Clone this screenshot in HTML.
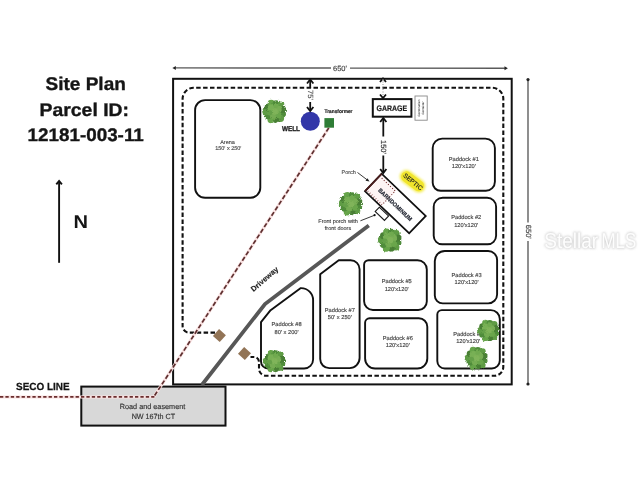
<!DOCTYPE html>
<html><head><meta charset="utf-8">
<style>
html,body{margin:0;padding:0;background:#fff;width:640px;height:480px;overflow:hidden}
svg{display:block;will-change:transform}
text{font-family:"Liberation Sans",sans-serif;text-rendering:geometricPrecision}
</style></head>
<body>
<svg width="640" height="480" viewBox="0 0 640 480">
<defs>
<g id="tree" filter="url(#tex)">
<circle r="10" fill="#5a983e"/>
<circle cx="7.36" cy="2.28" r="3.3" fill="#4f8c3a"/>
<circle cx="5.54" cy="6.58" r="3.3" fill="#5f9c45"/>
<circle cx="0.99" cy="7.64" r="3.3" fill="#487f34"/>
<circle cx="-3.68" cy="7.77" r="3.3" fill="#66a44a"/>
<circle cx="-6.54" cy="4.07" r="3.3" fill="#4f8c3a"/>
<circle cx="-8.60" cy="-0.12" r="3.3" fill="#5f9c45"/>
<circle cx="-6.42" cy="-4.26" r="3.3" fill="#487f34"/>
<circle cx="-3.46" cy="-7.87" r="3.3" fill="#66a44a"/>
<circle cx="1.21" cy="-7.61" r="3.3" fill="#4f8c3a"/>
<circle cx="5.72" cy="-6.42" r="3.3" fill="#5f9c45"/>
<circle cx="7.42" cy="-2.06" r="3.3" fill="#487f34"/>
<circle cx="-3" cy="-3" r="4" fill="#78b055"/>
<circle cx="3" cy="-2" r="3.5" fill="#78ae54"/>
<circle cx="-1" cy="3" r="4" fill="#74ac52"/>
<circle cx="3.5" cy="3.5" r="3" fill="#6aa64c"/>
<circle cx="0" cy="0" r="3" fill="#80b45a"/>
<circle cx="-5" cy="1" r="2.5" fill="#65a049"/>
<circle cx="1" cy="-6" r="2.5" fill="#70aa50"/>
</g>
<filter id="tex" x="-30%" y="-30%" width="160%" height="160%">
<feTurbulence type="fractalNoise" baseFrequency="0.9" numOctaves="2" seed="4" result="n"/>
<feDisplacementMap in="SourceGraphic" in2="n" scale="3" xChannelSelector="R" yChannelSelector="G"/>
</filter>
<filter id="wm" x="-10%" y="-30%" width="120%" height="160%">
<feGaussianBlur stdDeviation="0.9"/>
</filter>
<filter id="glow" x="-30%" y="-50%" width="160%" height="200%">
<feGaussianBlur stdDeviation="1.2"/>
</filter>
</defs>
<rect width="640" height="480" fill="#fff"/>

<!-- Title -->
<g font-weight="bold" font-size="18.3" fill="#151515" stroke="#151515" stroke-width="0.35">
<text x="45.6" y="89.8" textLength="80.2" lengthAdjust="spacingAndGlyphs">Site Plan</text>
<text x="39.6" y="115.6" textLength="89.4" lengthAdjust="spacingAndGlyphs">Parcel ID:</text>
<text x="27.6" y="140.5" textLength="116.2" lengthAdjust="spacingAndGlyphs">12181-003-11</text>
</g>

<!-- North arrow -->
<line x1="59.1" y1="262.8" x2="59.1" y2="181.5" stroke="#111" stroke-width="1.9"/>
<polyline points="56.3,184.4 59.1,180.9 61.9,184.4" fill="none" stroke="#111" stroke-width="1.9" stroke-linejoin="miter"/>
<text transform="translate(73.5,227.9) scale(1.08,1)" font-weight="bold" font-size="18.6" fill="#151515">N</text>

<!-- Top dimension -->
<g stroke="#5a5a5a" stroke-width="1.4">
<line x1="175" y1="67.9" x2="331" y2="68.05"/>
<line x1="350" y1="68.1" x2="505.5" y2="68.3"/>
</g>
<polygon points="172.4,67.9 175.8,65.9 175.8,69.9" fill="#222"/>
<polygon points="507.9,68.35 504.5,66.35 504.5,70.35" fill="#222"/>
<text x="340" y="70.9" font-size="7.5" fill="#3a3a3a" stroke="#3a3a3a" stroke-width="0.12" text-anchor="middle">650'</text>

<!-- Right dimension -->
<g stroke="#5f5f5f" stroke-width="1.4">
<line x1="528" y1="80" x2="528" y2="222.5"/>
<line x1="528" y1="241" x2="528" y2="383"/>
</g>
<circle cx="528" cy="79.6" r="1.6" fill="#222"/>
<circle cx="528" cy="384" r="1.6" fill="#222"/>
<text transform="translate(525.6,231.8) rotate(90)" font-size="7.5" fill="#3a3a3a" stroke="#3a3a3a" stroke-width="0.12" text-anchor="middle">650'</text>

<!-- Outer border -->
<rect x="173.1" y="78.8" width="338.6" height="305.6" fill="none" stroke="#111" stroke-width="2"/>

<!-- Dashed loop -->
<path d="M215,332.6 H189.1 A6.5,6.5 0 0 1 182.6,326.1 V98.8 A11,11 0 0 1 193.6,87.8 H492.3 A11,11 0 0 1 503.3,98.8 V366.8 A9,9 0 0 1 494.3,375.8 H266 A7,7 0 0 1 259,368.8 V362 A5,5 0 0 0 254,357 H250.5"
 fill="none" stroke="#111" stroke-width="2.1" stroke-dasharray="4.5 2.4"/>

<!-- Arena -->
<rect x="195.1" y="100.1" width="65.2" height="97.7" rx="10" fill="none" stroke="#111" stroke-width="1.9"/>
<text x="227.5" y="143.5" font-size="5.5" fill="#444" stroke="#444" stroke-width="0.12" text-anchor="middle">Arena</text>
<text x="228.3" y="150.3" font-size="5.5" fill="#444" stroke="#444" stroke-width="0.12" text-anchor="middle">150' x 250'</text>

<!-- Paddocks -->
<g fill="none" stroke="#111" stroke-width="1.9" stroke-linejoin="round">
<path d="M442.20,138.60 H485.40 A9.5,9.5 0 0 1 494.90,148.10 V181.80 A9,9 0 0 1 485.90,190.80 H440.70 A8,8 0 0 1 432.70,182.80 V148.10 A9.5,9.5 0 0 1 442.20,138.60 Z"/>
<path d="M442.70,197.70 H487.10 A9,9 0 0 1 496.10,206.70 V235.80 A8.5,8.5 0 0 1 487.60,244.30 H442.20 A8.5,8.5 0 0 1 433.70,235.80 V206.70 A9,9 0 0 1 442.70,197.70 Z"/>
<path d="M444.80,251.00 H488.10 A9,9 0 0 1 497.10,260.00 V294.40 A9,9 0 0 1 488.10,303.40 H442.80 A8,8 0 0 1 434.80,295.40 V261.00 A10,10 0 0 1 444.80,251.00 Z"/>
<path d="M441.80,310.10 H490.80 A9,9 0 0 1 499.80,319.10 V360.50 A8,8 0 0 1 491.80,368.50 H444.80 A7.5,7.5 0 0 1 437.30,361.00 V314.60 A4.5,4.5 0 0 1 441.80,310.10 Z"/>
<path d="M368.60,260.20 H417.50 A9.3,9.3 0 0 1 426.80,269.50 V301.50 A8.5,8.5 0 0 1 418.30,310.00 H372.85 A8.75,8.75 0 0 1 364.10,301.25 V264.70 A4.5,4.5 0 0 1 368.60,260.20 Z"/>
<path d="M369.60,318.30 H418.80 A8.5,8.5 0 0 1 427.30,326.80 V358.50 A10,10 0 0 1 417.30,368.50 H375.10 A10,10 0 0 1 365.10,358.50 V322.80 A4.5,4.5 0 0 1 369.60,318.30 Z"/>
<path d="M338.75,260.3 H350.6 A9,9 0 0 1 359.6,269.3 V358.1 A10,10 0 0 1 349.6,368.1 H329.2 A9,9 0 0 1 320.2,359.1 V274.2 L338.75,260.3 Z"/>
<path d="M300.8,288.1 H301.1 A12,12 0 0 1 313.1,300.1 V359.5 A9,9 0 0 1 304.1,368.5 H268 A7,7 0 0 1 261,361.5 V322.2 L270.6,310.2 L300.8,288.1 Z"/>
</g>
<g font-size="5.7" fill="#404040" stroke="#404040" stroke-width="0.14" text-anchor="middle">
<text x="463.8" y="160.7">Paddock #1</text><text x="463.8" y="167.7">120'x120'</text>
<text x="466.2" y="219.4">Paddock #2</text><text x="466.2" y="226.6">120'x120'</text>
<text x="466.6" y="277">Paddock #3</text><text x="466.6" y="284.2">120'x120'</text>
<text x="468.2" y="335.8">Paddock #4</text><text x="468.2" y="343.1">120'x120'</text>
<text x="396.7" y="283.1">Paddock #5</text><text x="396.7" y="290.5">120'x120'</text>
<text x="397.8" y="340">Paddock #6</text><text x="397.8" y="347.1">120'x120'</text>
<text x="339.8" y="311.6">Paddock #7</text><text x="339.8" y="319">50' x 250'</text>
<text x="286.6" y="326.3">Paddock #8</text><text x="286.6" y="334.1">80' x 200'</text>
</g>

<!-- Road -->
<rect x="81.3" y="386.6" width="144.2" height="39" fill="#d8d8d8" stroke="#111" stroke-width="2"/>
<text x="152.5" y="408.5" font-size="7.5" fill="#333" stroke="#333" stroke-width="0.15" text-anchor="middle" textLength="65.5" lengthAdjust="spacingAndGlyphs">Road and easement</text>
<text x="153.4" y="418.5" font-size="7.5" fill="#333" stroke="#333" stroke-width="0.15" text-anchor="middle" textLength="43.5" lengthAdjust="spacingAndGlyphs">NW 167th CT</text>

<!-- SECO line -->
<text x="16" y="389.8" font-weight="bold" font-size="10.3" fill="#151515" stroke="#151515" stroke-width="0.25" textLength="53.6" lengthAdjust="spacingAndGlyphs">SECO LINE</text>
<polyline points="0,396.9 153.75,396.9 328.8,127.9" fill="none" stroke="#f9e2e2" stroke-width="3"/>
<line x1="0" y1="396.9" x2="154.4" y2="396.9" stroke="#6a2e2e" stroke-width="1.6" stroke-dasharray="3.3 2.1"/>
<line x1="328.8" y1="127.9" x2="153.75" y2="396.9" stroke="#5e3030" stroke-width="1.7" stroke-dasharray="4.4 2.3"/>

<!-- Driveway -->
<polyline points="201.8,385 265,304 368.8,225.4" fill="none" stroke="#575757" stroke-width="3.8"/>
<text transform="translate(266.2,281) rotate(-41)" font-weight="bold" font-size="7.4" fill="#1e1e1e" stroke="#1e1e1e" stroke-width="0.15" text-anchor="middle" textLength="33.5" lengthAdjust="spacingAndGlyphs">Driveway</text>

<!-- Diamonds -->
<rect x="-4.6" y="-4.6" width="9.2" height="9.2" fill="#927456" transform="translate(219.4,335.6) rotate(42)"/>
<rect x="-4.6" y="-4.6" width="9.2" height="9.2" fill="#927456" transform="translate(244.5,353.5) rotate(42)"/>

<!-- Well + transformer -->
<circle cx="310.3" cy="121.3" r="9.5" fill="#3236a8"/>
<text x="291" y="130.6" font-weight="bold" font-size="7" fill="#1a1a1a" stroke="#1a1a1a" stroke-width="0.3" text-anchor="middle" textLength="18" lengthAdjust="spacingAndGlyphs">WELL</text>
<rect x="324.4" y="118.1" width="9.6" height="9.6" fill="#2f7d36"/>
<text x="338.5" y="113.2" font-weight="bold" font-size="5.2" fill="#1e1e1e" stroke="#1e1e1e" stroke-width="0.2" text-anchor="middle" textLength="28" lengthAdjust="spacingAndGlyphs">Transformer</text>

<!-- 75' arrow -->
<line x1="310.2" y1="80" x2="310.2" y2="88" stroke="#111" stroke-width="1.8"/>
<polyline points="307,83.5 310.2,79.5 313.4,83.5" fill="none" stroke="#111" stroke-width="1.8"/>
<line x1="310.2" y1="102" x2="310.2" y2="110.5" stroke="#111" stroke-width="1.8"/>
<polyline points="307,107 310.2,111 313.4,107" fill="none" stroke="#111" stroke-width="1.8"/>
<text transform="translate(308,95) rotate(90)" font-size="7.5" fill="#555" stroke="#555" stroke-width="0.12" text-anchor="middle">75'</text>

<!-- Garage -->
<rect x="372.8" y="99.1" width="38.6" height="17.6" fill="none" stroke="#111" stroke-width="2"/>
<text x="391.9" y="110.9" font-weight="bold" font-size="8" fill="#1a1a1a" stroke="#1a1a1a" stroke-width="0.2" text-anchor="middle" textLength="30.6" lengthAdjust="spacingAndGlyphs">GARAGE</text>
<rect x="415" y="96" width="12.2" height="24.2" fill="none" stroke="#888" stroke-width="0.9"/>
<g font-size="3" fill="#444" stroke="#444" stroke-width="0.1" text-anchor="middle">
<text transform="translate(420,108) rotate(-90)">Construction</text>
<text transform="translate(424,108) rotate(-90)">Container</text>
</g>
<polyline points="380,82 383,78.5 386,82" fill="none" stroke="#111" stroke-width="1.8"/>
<line x1="383" y1="79" x2="383" y2="97" stroke="#999" stroke-width="1" stroke-dasharray="1 1.5"/>
<polyline points="380,94.5 383,98 386,94.5" fill="none" stroke="#111" stroke-width="1.8"/>

<!-- 150' arrow -->
<line x1="383.3" y1="118.5" x2="383.3" y2="136.5" stroke="#111" stroke-width="1.8"/>
<line x1="383.3" y1="155.5" x2="383.3" y2="172.5" stroke="#111" stroke-width="1.8"/>
<polyline points="380.2,122 383.3,118 386.4,122" fill="none" stroke="#111" stroke-width="1.8"/>
<polyline points="380.2,169 383.3,173 386.4,169" fill="none" stroke="#111" stroke-width="1.8"/>
<text transform="translate(381,147) rotate(90)" font-size="7.5" fill="#333" stroke="#333" stroke-width="0.15" text-anchor="middle">150'</text>

<!-- Porch label -->
<text x="348.7" y="173.8" font-size="5.5" fill="#444" stroke="#444" stroke-width="0.12" text-anchor="middle">Porch</text>
<line x1="357.5" y1="172.5" x2="368" y2="180.5" stroke="#222" stroke-width="0.9"/>
<polygon points="369.5,181.5 365.5,180.8 367.5,178.2" fill="#222"/>

<!-- Septic -->
<rect x="-14.6" y="-6.8" width="29.2" height="13.6" rx="6.8" fill="#f5ee60" transform="translate(412.6,181.3) rotate(37)" filter="url(#glow)"/>
<rect x="-13" y="-5.4" width="26" height="10.8" rx="5.4" fill="#f1e52c" transform="translate(412.6,181.3) rotate(37)"/>
<text transform="translate(411.6,183.5) rotate(39)" font-size="6.4" fill="#222" stroke="#222" stroke-width="0.12" text-anchor="middle" textLength="23" lengthAdjust="spacingAndGlyphs">SEPTIC</text>

<!-- Barndominium -->
<g transform="translate(395.4,203.6) rotate(43.7)">
<rect x="-30.5" y="-12" width="61" height="24" fill="#fff" stroke="#111" stroke-width="1.8"/>
<rect x="-29.5" y="-11" width="21" height="22" fill="#fdf4f4"/>
<line x1="-30.5" y1="-12" x2="-30.5" y2="12" stroke="#4a1c1c" stroke-width="1.8"/>
<polyline points="-27.5,-9 -8.8,-9 -8.8,10" fill="none" stroke="#6e2626" stroke-width="1.1" stroke-dasharray="1 1.9"/>
<line x1="-28.5" y1="10.2" x2="-9" y2="10.2" stroke="#7a3030" stroke-width="1.8" stroke-dasharray="0.6 2.1"/>
<text x="0.5" y="2.9" font-weight="bold" font-size="5.8" fill="#262a36" stroke="#262a36" stroke-width="0.2" text-anchor="middle" textLength="44.5" lengthAdjust="spacingAndGlyphs">BARNDOMINIUM</text>
</g>
<rect x="-6.4" y="-3" width="12.8" height="6" fill="#fff" stroke="#1a1a1a" stroke-width="1.1" transform="translate(381.9,213.8) rotate(43.7)"/>
<text x="338" y="223" font-size="5.5" fill="#3a3a3a" stroke="#3a3a3a" stroke-width="0.12" text-anchor="middle">Front porch with</text>
<text x="338" y="230" font-size="5.5" fill="#3a3a3a" stroke="#3a3a3a" stroke-width="0.12" text-anchor="middle">front doors</text>
<line x1="360.4" y1="220.8" x2="374.4" y2="215.3" stroke="#222" stroke-width="0.9"/>
<circle cx="374.6" cy="215.2" r="1.1" fill="#111"/>

<!-- Trees -->
<use href="#tree" transform="translate(274.8,111.6) scale(1.05)"/>
<use href="#tree" transform="translate(351,203.8) scale(1.05)"/>
<use href="#tree" transform="translate(390.2,240.2) scale(1.05)"/>
<use href="#tree" transform="translate(488.7,330.5) scale(0.97)"/>
<use href="#tree" transform="translate(476.6,358.2) scale(1.02)"/>
<use href="#tree" transform="translate(274.6,361.2) scale(1.0)"/>

<!-- Watermark -->
<g font-size="21.5" lengthAdjust="spacingAndGlyphs">
<text x="544.2" y="247.7" fill="none" stroke="#d0d0d0" stroke-width="1.4" filter="url(#wm)" textLength="54" lengthAdjust="spacingAndGlyphs">Stellar</text>
<text x="601.4" y="247.7" fill="none" stroke="#d0d0d0" stroke-width="1.4" filter="url(#wm)" textLength="34.8" lengthAdjust="spacingAndGlyphs">MLS</text>
<text x="544.2" y="247.7" fill="#fdfdfd" textLength="54" lengthAdjust="spacingAndGlyphs">Stellar</text>
<text x="601.4" y="247.7" fill="#fdfdfd" textLength="34.8" lengthAdjust="spacingAndGlyphs">MLS</text>
</g>
</svg>
</body></html>
